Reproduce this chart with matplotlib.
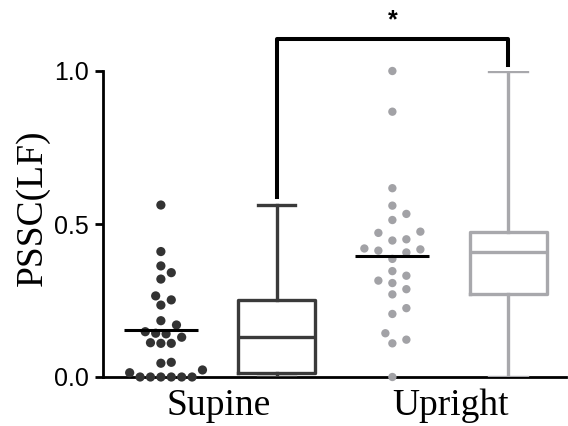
import numpy as np
import matplotlib
matplotlib.use("Agg")
import matplotlib.pyplot as plt

# ---- data ----
groups = ["Supine", "Upright"]
supine = [0.562, 0.410, 0.363, 0.341, 0.320, 0.265, 0.252, 0.235, 0.184, 0.170,
          0.148, 0.141, 0.143, 0.130, 0.112, 0.110, 0.110, 0.048, 0.045, 0.023,
          0.014, 0.0, 0.0, 0.0, 0.0, 0.0, 0.0]
upright = [1.0, 0.867, 0.617, 0.560, 0.533, 0.513, 0.471, 0.475, 0.446, 0.450,
           0.417, 0.407, 0.413, 0.420, 0.386, 0.346, 0.331, 0.315, 0.307, 0.287,
           0.270, 0.225, 0.206, 0.143, 0.122, 0.110, 0.0]
y_ticks = [0.0, 0.5, 1.0]
y_tick_labels = ["0.0", "0.5", "1.0"]
y_label = "PSSC(LF)"
sig_label = "*"

dot_colors = ["#333333", "#a2a2a6"]
box_colors = ["#3a3a3a", "#a8a8ac"]

W, H = 568, 426
fig = plt.figure(figsize=(W / 100, H / 100), dpi=100)
ax_l, ax_b, ax_w, ax_h = 103, 49, 463, 306
ax = fig.add_axes([ax_l / W, ax_b / H, ax_w / W, ax_h / H])
ax.set_xlim(0.5, 4.5)
ax.set_ylim(0, 1)
px_x = ax_w / 4.0
px_y = ax_h / 1.0


def swarm(values, center, step_px, min_px):
    vals = np.asarray(values, float)
    order = np.argsort(vals, kind="stable")
    placed = []
    offs = np.zeros(len(vals))
    cands = [0] + [s * j for j in range(1, 60) for s in (1, -1)]
    for i in order:
        y = vals[i] * px_y
        for c in cands:
            x = c * step_px
            if all((x - a) ** 2 + (y - b) ** 2 >= min_px ** 2 for a, b in placed):
                break
        placed.append((x, y))
        offs[i] = x
    return center + offs / px_x


series = [supine, upright]
scatter_pos = [1, 3]
box_pos = [2, 4]
swarm_params = [(5.2, 10.4), (7.0, 11.0)]
dot_sizes = [44, 36]

for vals, pos, col, (st, md), sz in zip(series, scatter_pos, dot_colors, swarm_params, dot_sizes):
    xs = swarm(vals, pos, st, md)
    ax.scatter(xs, vals, s=sz, color=col, edgecolors="none", zorder=3, clip_on=False)
    m = np.mean(vals)
    ax.plot([pos - 0.32, pos + 0.32], [m, m], color="black", lw=2.2, zorder=4,
            solid_capstyle="butt")

# box plots (GraphPad style quartiles, whiskers min to max)
stats = []
for vals in series:
    v = np.asarray(vals)
    q1, med, q3 = np.percentile(v, [25, 50, 75], method="weibull")
    stats.append(dict(med=med, q1=q1, q3=q3, whislo=v.min(), whishi=v.max(), fliers=[]))

for st_, pos, col in zip(stats, box_pos, box_colors):
    lp = dict(color=col, lw=2.4, solid_joinstyle="round")
    ax.bxp([st_], positions=[pos], widths=0.667, capwidths=0.326, showfliers=False,
           boxprops=lp, whiskerprops=lp, capprops=lp, medianprops=lp,
           manage_ticks=False, zorder=3)

# significance bracket
top = 1.103
ax.plot([2, 2, 4, 4], [0.588, top, top, 1.02], color="black", lw=2.9,
        clip_on=False, solid_joinstyle="round", zorder=5)
ax.text(3, 1.165, sig_label, ha="center", va="center", fontsize=18,
        fontweight="bold", family="Liberation Sans", clip_on=False)

# axes styling
for s in ["top", "right"]:
    ax.spines[s].set_visible(False)
for s in ["left", "bottom"]:
    ax.spines[s].set_linewidth(2.0)
    ax.spines[s].set_color("black")

ax.set_yticks(y_ticks)
ax.set_yticklabels(y_tick_labels, family="Liberation Sans", fontsize=18)
ax.tick_params(axis="y", length=6, width=2, pad=4)
ax.set_xticks([1.5, 3.5])
ax.set_xticklabels(groups, family="Liberation Serif", fontsize=27)
ax.tick_params(axis="x", length=0, pad=8)

ax.set_ylabel(y_label, family="Liberation Serif", fontsize=27)
ax.yaxis.set_label_coords(-0.115, 0.554)

fig.savefig("out.png", dpi=100)
